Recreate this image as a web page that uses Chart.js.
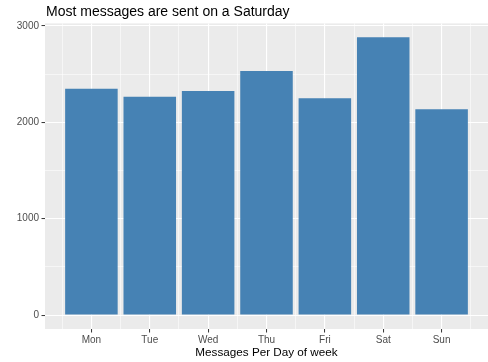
<!DOCTYPE html>
<html>
<head>
<meta charset="utf-8">
<script src="https://cdn.jsdelivr.net/npm/chart.js@4/dist/chart.umd.min.js"></script>
<style>
  html, body { margin: 0; padding: 0; background: #ffffff; }
  #wrap { width: 488px; height: 362px; position: relative; }
  canvas { display: block; }
</style>
</head>
<body>
<div id="wrap"><canvas id="c" width="488" height="362"></canvas></div>
<script>
// ---- data ----
const titleText = 'Most messages are sent on a Saturday';
const xAxisTitle = 'Messages Per Day of week';
const days = ['Mon', 'Tue', 'Wed', 'Thu', 'Fri', 'Sat', 'Sun'];
const messages = [2349, 2266, 2325, 2533, 2250, 2883, 2135];
const yMajorTicks = [0, 1000, 2000, 3000];
const yMinorTicks = [500, 1500, 2500];

const FONT = '"Liberation Sans", Arial, sans-serif';
const points = days.map((d, i) => ({ x: i + 1, y: messages[i] }));
const xTickValues = [];
for (let i = 0; i <= days.length; i++) {
  xTickValues.push(i + 0.5);
  if (i < days.length) xTickValues.push(i + 1);
}
const yTickValues = [...yMajorTicks, ...yMinorTicks].sort((a, b) => a - b);

const isMajorX = v => Number.isInteger(v);
const isMajorY = v => yMajorTicks.includes(v);

const panelPlugin = {
  id: 'panel',
  beforeDraw(chart) {
    const { ctx, chartArea: a } = chart;
    ctx.save();
    ctx.fillStyle = '#EBEBEB';
    ctx.fillRect(a.left, a.top, a.right - a.left, a.bottom - a.top);
    ctx.restore();
  },
  afterDraw(chart) {
    const { ctx, chartArea: a } = chart;
    ctx.save();
    ctx.fillStyle = '#000000';
    ctx.font = '14px ' + FONT;
    ctx.textAlign = 'left';
    ctx.textBaseline = 'alphabetic';
    ctx.fillText(titleText, a.left + 1, 16);
    ctx.restore();
  }
};

new Chart(document.getElementById('c'), {
  type: 'bar',
  data: {
    datasets: [{
      data: points,
      backgroundColor: '#4682B4',
      borderWidth: 0,
      barPercentage: 1.8,
      categoryPercentage: 1.0
    }]
  },
  options: {
    responsive: false,
    animation: false,
    devicePixelRatio: 1,
    layout: { padding: { top: 23.4, left: 0, right: 0, bottom: 0 } },
    plugins: { legend: { display: false }, tooltip: { enabled: false }, title: { display: false } },
    scales: {
      x: {
        type: 'linear',
        offset: false,
        min: 0.205,
        max: 7.795,
        afterBuildTicks: s => { s.ticks = xTickValues.map(v => ({ value: v })); },
        afterFit: s => { s.height = 33; },
        border: { display: false },
        grid: {
          offset: false,
          color: '#FFFFFF',
          lineWidth: c => (c.tick && isMajorX(c.tick.value)) ? 1.1 : 0.55,
          drawTicks: true,
          tickLength: 3.5,
          tickWidth: 1,
          tickColor: c => (c.tick && isMajorX(c.tick.value)) ? '#333333' : 'rgba(0,0,0,0)'
        },
        ticks: {
          autoSkip: false,
          maxRotation: 0,
          padding: 2,
          color: '#4D4D4D',
          font: { family: FONT, size: 10 },
          callback: v => isMajorX(v) ? days[v - 1] : ''
        },
        title: {
          display: true,
          text: xAxisTitle,
          color: '#000000',
          font: { family: FONT, size: 11.7 },
          padding: { top: 2.6, bottom: 2.6 }
        }
      },
      y: {
        type: 'linear',
        min: -144,
        max: 3027,
        afterBuildTicks: s => { s.ticks = yTickValues.map(v => ({ value: v })); },
        afterFit: s => { s.width = 45; },
        border: { display: false },
        grid: {
          color: '#FFFFFF',
          lineWidth: c => (c.tick && isMajorY(c.tick.value)) ? 1.1 : 0.55,
          drawTicks: true,
          tickLength: 3.5,
          tickWidth: 1,
          tickColor: c => (c.tick && isMajorY(c.tick.value)) ? '#333333' : 'rgba(0,0,0,0)'
        },
        ticks: {
          autoSkip: false,
          padding: 2.5,
          color: '#4D4D4D',
          font: { family: FONT, size: 10 },
          callback: v => isMajorY(v) ? String(v) : ''
        }
      }
    }
  },
  plugins: [panelPlugin]
});
</script>
</body>
</html>
